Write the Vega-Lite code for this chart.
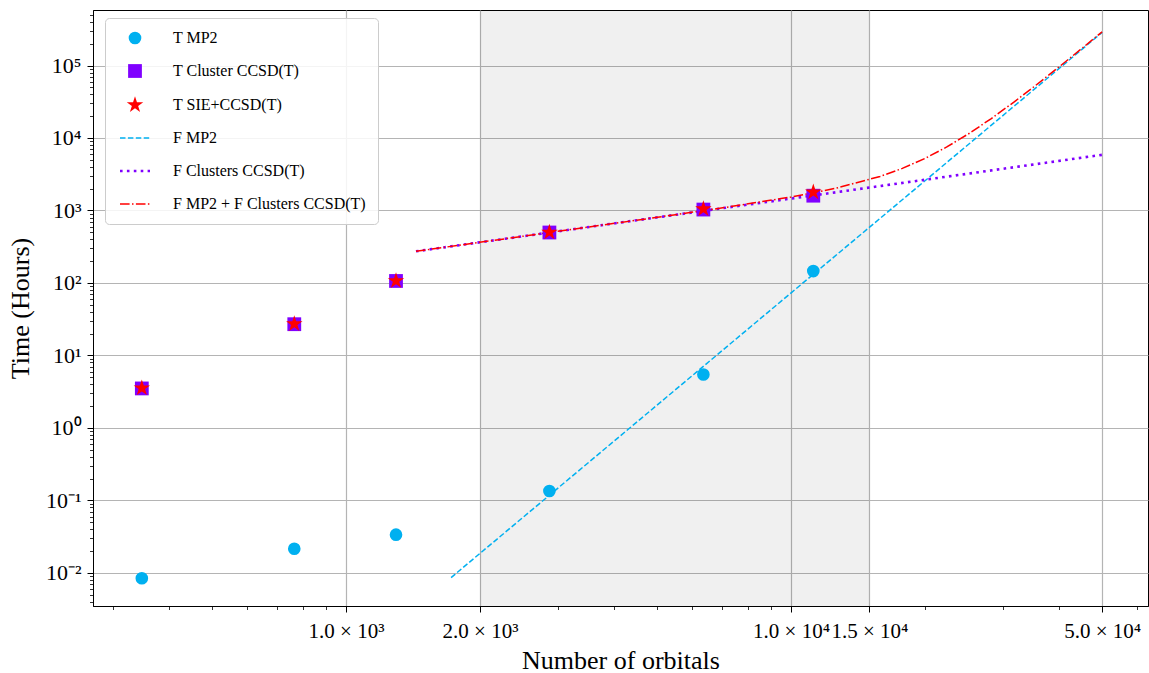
{
  "$schema": "https://vega.github.io/schema/vega-lite/v6.json",
  "width": 1055,
  "height": 596,
  "autosize": {"type": "none"},
  "padding": {"left": 93, "top": 10, "right": 1, "bottom": 67},
  "background": "white",
  "config": {
    "font": "Liberation Serif",
    "view": {"stroke": "black", "strokeWidth": 1},
    "axis": {
      "labelFont": "Liberation Serif",
      "titleFont": "Liberation Serif",
      "titleFontWeight": "normal",
      "domainColor": "black",
      "tickColor": "black",
      "labelColor": "black",
      "titleColor": "black",
      "gridColor": "#b4b4b4",
      "gridWidth": 1.2,
      "gridOpacity": 1
    }
  },
  "datasets": {
    "band": [{"lo": 2000, "hi": 15000}],
    "pts": [
      {"series": "T_MP2", "N": 347.6, "t": 0.00845},
      {"series": "T_MP2", "N": 765, "t": 0.0216},
      {"series": "T_MP2", "N": 1295, "t": 0.0337},
      {"series": "T_MP2", "N": 2864, "t": 0.135},
      {"series": "T_MP2", "N": 6353, "t": 5.47},
      {"series": "T_MP2", "N": 11220, "t": 146},
      {"series": "T_CL", "N": 347.6, "t": 3.51},
      {"series": "T_CL", "N": 765, "t": 27.0},
      {"series": "T_CL", "N": 1295, "t": 106.6},
      {"series": "T_CL", "N": 2864, "t": 497},
      {"series": "T_CL", "N": 6353, "t": 1030},
      {"series": "T_CL", "N": 11220, "t": 1600},
      {"series": "T_SIE", "N": 347.6, "t": 3.55},
      {"series": "T_SIE", "N": 765, "t": 27.2},
      {"series": "T_SIE", "N": 1295, "t": 107},
      {"series": "T_SIE", "N": 2864, "t": 500},
      {"series": "T_SIE", "N": 6353, "t": 1050},
      {"series": "T_SIE", "N": 11220, "t": 1790}
    ],
    "fits": [
      {"series": "F_MP2", "N": 1722, "t": 0.00863},
      {"series": "F_MP2", "N": 50000, "t": 285759},
      {"series": "F_CL", "N": 1436, "t": 273.5},
      {"series": "F_CL", "N": 50000, "t": 5857},
      {"series": "F_SUM", "N": 1436, "t": 273.5},
      {"series": "F_SUM", "N": 1995, "t": 363.4},
      {"series": "F_SUM", "N": 3162, "t": 541},
      {"series": "F_SUM", "N": 5012, "t": 806.7},
      {"series": "F_SUM", "N": 7079, "t": 1096},
      {"series": "F_SUM", "N": 10000, "t": 1533},
      {"series": "F_SUM", "N": 12589, "t": 2020},
      {"series": "F_SUM", "N": 15849, "t": 2952},
      {"series": "F_SUM", "N": 17783, "t": 3807},
      {"series": "F_SUM", "N": 19953, "t": 5193},
      {"series": "F_SUM", "N": 22387, "t": 7520},
      {"series": "F_SUM", "N": 25119, "t": 11533},
      {"series": "F_SUM", "N": 28184, "t": 18569},
      {"series": "F_SUM", "N": 31623, "t": 31046},
      {"series": "F_SUM", "N": 35481, "t": 53335},
      {"series": "F_SUM", "N": 39811, "t": 93324},
      {"series": "F_SUM", "N": 44668, "t": 165270},
      {"series": "F_SUM", "N": 50000, "t": 291616}
    ]
  },
  "layer": [
    {
      "data": {"name": "band"},
      "mark": {"type": "rect", "fill": "black", "opacity": 0.058},
      "encoding": {
        "x": {"field": "lo", "type": "quantitative", "scale": {"type": "log", "domain": [270, 63400], "nice": false}, "axis": null},
        "x2": {"field": "hi"}
      }
    },
    {
      "data": {"name": "fits"},
      "transform": [{"filter": "datum.series === 'F_MP2'"}],
      "mark": {"type": "line", "strokeWidth": 1.5, "strokeDash": [5.5, 2.4]},
      "encoding": {
        "x": {"field": "N", "type": "quantitative", "scale": {"type": "log", "domain": [270, 63400], "nice": false},
          "axis": {"orient": "bottom", "values": [1000, 2000, 10000, 15000, 50000],
            "labelExpr": "datum.value == 1000 ? '1.0 × 10³' : datum.value == 2000 ? '2.0 × 10³' : datum.value == 10000 ? '1.0 × 10⁴' : datum.value == 15000 ? '1.5 × 10⁴' : '5.0 × 10⁴'",
            "grid": true, "tickSize": 6, "tickWidth": 1, "domain": true, "domainWidth": 1,
            "labelFontSize": 21, "labelPadding": 8, "labelFlush": false, "labelOverlap": false,
            "title": "Number of orbitals", "titleFontSize": 26, "titlePadding": 6}},
        "y": {"field": "t", "type": "quantitative", "scale": {"type": "log", "domain": [0.0035, 583000], "nice": false},
          "axis": {"orient": "left", "values": [0.01, 0.1, 1, 10, 100, 1000, 10000, 100000],
            "labelExpr": "datum.value < 0.05 ? '10⁻²' : datum.value < 0.5 ? '10⁻¹' : datum.value < 5 ? '10⁰' : datum.value < 50 ? '10¹' : datum.value < 500 ? '10²' : datum.value < 5000 ? '10³' : datum.value < 50000 ? '10⁴' : '10⁵'",
            "grid": true, "tickSize": 6, "tickWidth": 1, "domain": true, "domainWidth": 1,
            "labelFontSize": 22, "labelPadding": 6, "labelOverlap": false,
            "title": "Time (Hours)", "titleFontSize": 26, "titlePadding": 12}},
        "color": {"field": "series", "type": "nominal",
          "scale": {"domain": ["T_MP2", "T_CL", "T_SIE", "F_MP2", "F_CL", "F_SUM"], "range": ["#00b0f0", "#8000ff", "#ff0000", "#00b0f0", "#8000ff", "#ff0000"]},
          "legend": {"title": null, "orient": "none", "legendX": 12, "legendY": 8, "direction": "vertical",
            "padding": 12, "fillColor": "rgba(255,255,255,0.85)", "strokeColor": "#cccccc", "cornerRadius": 4,
            "symbolSize": 400, "symbolOffset": 10, "labelOffset": 30, "rowPadding": 17,
            "labelFont": "Liberation Serif", "labelFontSize": 16, "labelColor": "black", "labelLimit": 400,
            "labelExpr": "datum.value === 'T_MP2' ? 'T MP2' : datum.value === 'T_CL' ? 'T Cluster CCSD(T)' : datum.value === 'T_SIE' ? 'T SIE+CCSD(T)' : datum.value === 'F_MP2' ? 'F MP2' : datum.value === 'F_CL' ? 'F Clusters CCSD(T)' : 'F MP2 + F Clusters CCSD(T)'",
            "encode": {"symbols": {"update": {
              "shape": {"signal": "datum.value === 'T_MP2' ? 'circle' : datum.value === 'T_CL' ? 'square' : datum.value === 'T_SIE' ? 'M0,-1L0.2245,-0.309L0.951,-0.309L0.363,0.118L0.588,0.809L0,0.382L-0.588,0.809L-0.363,0.118L-0.951,-0.309L-0.2245,-0.309Z' : 'stroke'"},
              "size": {"signal": "datum.value === 'T_MP2' ? 160 : datum.value === 'T_CL' ? 190 : datum.value === 'T_SIE' ? 300 : 900"},
              "fill": {"signal": "datum.value === 'T_MP2' ? '#00b0f0' : datum.value === 'T_CL' ? '#8000ff' : datum.value === 'T_SIE' ? '#ff0000' : 'transparent'"},
              "stroke": {"signal": "datum.value === 'F_MP2' ? '#00b0f0' : datum.value === 'F_CL' ? '#8000ff' : datum.value === 'F_SUM' ? '#ff0000' : 'transparent'"},
              "strokeWidth": {"signal": "datum.value === 'F_CL' ? 2.6 : (datum.value === 'F_MP2' || datum.value === 'F_SUM') ? 1.5 : 0"},
              "strokeDash": {"signal": "datum.value === 'F_MP2' ? [5.5, 2.4] : datum.value === 'F_CL' ? [2.6, 4.3] : datum.value === 'F_SUM' ? [9.6, 2.4, 1.5, 2.4] : [1, 0]"},
              "opacity": {"value": 1}
            }}}
          }},
        "order": {"field": "N", "type": "quantitative"}
      }
    },
    {
      "data": {"name": "fits"},
      "transform": [{"filter": "datum.series === 'F_CL'"}],
      "mark": {"type": "line", "strokeWidth": 2.6, "strokeDash": [2.6, 4.3], "color": "#8000ff"},
      "encoding": {
        "x": {"field": "N", "type": "quantitative", "scale": {"type": "log", "domain": [270, 63400], "nice": false}, "axis": null},
        "y": {"field": "t", "type": "quantitative", "scale": {"type": "log", "domain": [0.0035, 583000], "nice": false}, "axis": null},
        "order": {"field": "N", "type": "quantitative"}
      }
    },
    {
      "data": {"name": "fits"},
      "transform": [{"filter": "datum.series === 'F_SUM'"}],
      "mark": {"type": "line", "strokeWidth": 1.5, "strokeDash": [9.6, 2.4, 1.5, 2.4], "color": "#ff0000"},
      "encoding": {
        "x": {"field": "N", "type": "quantitative", "scale": {"type": "log", "domain": [270, 63400], "nice": false}, "axis": null},
        "y": {"field": "t", "type": "quantitative", "scale": {"type": "log", "domain": [0.0035, 583000], "nice": false}, "axis": null},
        "order": {"field": "N", "type": "quantitative"}
      }
    },
    {
      "data": {"name": "pts"},
      "transform": [{"filter": "datum.series === 'T_MP2'"}],
      "mark": {"type": "point", "shape": "circle", "filled": true, "opacity": 1, "size": 160, "strokeWidth": 0, "color": "#00b0f0"},
      "encoding": {
        "x": {"field": "N", "type": "quantitative", "scale": {"type": "log", "domain": [270, 63400], "nice": false},
          "axis": {"orient": "bottom", "values": [300, 400, 500, 600, 700, 800, 900, 3000, 4000, 5000, 6000, 7000, 8000, 9000, 20000, 30000, 40000, 60000],
            "labels": false, "grid": false, "domain": false, "tickSize": 3.5, "tickWidth": 0.8, "title": null}},
        "y": {"field": "t", "type": "quantitative", "scale": {"type": "log", "domain": [0.0035, 583000], "nice": false},
          "axis": {"orient": "left", "values": [0.004, 0.005, 0.006, 0.007, 0.008, 0.009, 0.02, 0.03, 0.04, 0.05, 0.06, 0.07, 0.08, 0.09, 0.2, 0.3, 0.4, 0.5, 0.6, 0.7, 0.8, 0.9, 2, 3, 4, 5, 6, 7, 8, 9, 20, 30, 40, 50, 60, 70, 80, 90, 200, 300, 400, 500, 600, 700, 800, 900, 2000, 3000, 4000, 5000, 6000, 7000, 8000, 9000, 20000, 30000, 40000, 50000, 60000, 70000, 80000, 90000, 200000, 300000, 400000, 500000],
            "labels": false, "grid": false, "domain": false, "tickSize": 3.5, "tickWidth": 0.8, "title": null}}
      }
    },
    {
      "data": {"name": "pts"},
      "transform": [{"filter": "datum.series === 'T_CL'"}],
      "mark": {"type": "point", "shape": "square", "filled": true, "opacity": 1, "size": 190, "strokeWidth": 0, "color": "#8000ff"},
      "encoding": {
        "x": {"field": "N", "type": "quantitative", "scale": {"type": "log", "domain": [270, 63400], "nice": false}, "axis": null},
        "y": {"field": "t", "type": "quantitative", "scale": {"type": "log", "domain": [0.0035, 583000], "nice": false}, "axis": null}
      }
    },
    {
      "data": {"name": "pts"},
      "transform": [{"filter": "datum.series === 'T_SIE'"}],
      "mark": {"type": "point", "shape": "M0,-1L0.2245,-0.309L0.951,-0.309L0.363,0.118L0.588,0.809L0,0.382L-0.588,0.809L-0.363,0.118L-0.951,-0.309L-0.2245,-0.309Z", "filled": true, "opacity": 1, "size": 300, "strokeWidth": 0, "color": "#ff0000"},
      "encoding": {
        "x": {"field": "N", "type": "quantitative", "scale": {"type": "log", "domain": [270, 63400], "nice": false}, "axis": null},
        "y": {"field": "t", "type": "quantitative", "scale": {"type": "log", "domain": [0.0035, 583000], "nice": false}, "axis": null}
      }
    }
  ],
  "resolve": {"axis": {"x": "independent", "y": "independent"}}
}
